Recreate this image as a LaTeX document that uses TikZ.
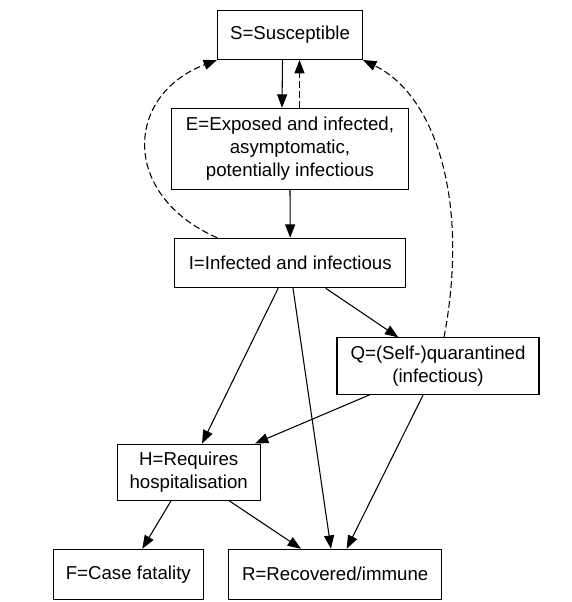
\documentclass[tikz,border=0pt]{standalone}
\usepackage{fontspec}
\setmainfont{Liberation Sans}
\usetikzlibrary{arrows.meta,calc}
\begin{document}
\begin{tikzpicture}[x=0.75pt,y=-0.75pt,
  box/.style={draw,line width=0.8pt,inner sep=0pt,align=center,font=\fontsize{14}{17.5}\selectfont},
  arr/.style={line width=0.8pt,-{Triangle[length=10pt,width=7.5pt]}},
  dsh/.style={arr,dash pattern=on 5pt off 2.5pt}]
\useasboundingbox (0,0) rectangle (571,602);
\node[box,minimum width=108.75pt,minimum height=36.75pt] (S) at (290,35) {S=Susceptible};
\node[box,minimum width=177.45pt,minimum height=60.75pt] (E) at (290,148.8) {E=Exposed and infected,\\asymptomatic,\\potentially infectious};
\node[box,minimum width=173.25pt,minimum height=37.05pt] (I) at (290.2,263) {I=Infected and infectious};
\node[box,minimum width=151.5pt,minimum height=42.2pt] (Q) at (438,366) {Q=(Self-)quarantined\\(infectious)};
\node[box,minimum width=107.5pt,minimum height=42.2pt] (H) at (188.7,472.2) {H=Requires\\hospitalisation};
\node[box,minimum width=112.5pt,minimum height=37.5pt] (F) at (128.3,574.3) {F=Case fatality};
\node[box,minimum width=159.75pt,minimum height=37.5pt] (R) at (335.2,574.3) {R=Recovered/immune};
% S <-> E
\draw[arr] ($(S.south)+(-7.5,0)$) -- ($(E.north)+(-8,0)$);
\draw[dsh] ($(E.north)+(9.5,0)$) -- ($(S.south)+(9.5,0)$);
\draw[arr] (E.south) -- (I.north);
% dashed returns
\draw[dsh] ($(I.north)+(-73,0)$) .. controls (120,195) and (125,95) .. (S.south west);
\draw[dsh] ($(Q.north)+(6,0)$) .. controls (470,200) and (435,95) .. (S.south east);
% from I
\draw[arr] ($(I.south)+(35.5,0)$) -- ($(Q.north)+(-39.7,0)$);
\draw[arr] ($(I.south)+(-12,0)$) -- ($(H.north)+(13.3,0)$);
\draw[arr] ($(I.south)+(2.8,0)$) -- ($(R.north)+(-4.2,0)$);
% from Q
\draw[arr] ($(Q.south)+(-68,0)$) -- ($(H.north)+(66.3,0)$);
\draw[arr] ($(Q.south)+(-14.7,0)$) -- ($(R.north)+(11.5,0)$);
% from H
\draw[arr] ($(H.south)+(-17.7,0)$) -- ($(F.north)+(14,0)$);
\draw[arr] ($(H.south)+(40.6,0)$) -- ($(R.north)+(-34.2,0)$);
\end{tikzpicture}
\end{document}
